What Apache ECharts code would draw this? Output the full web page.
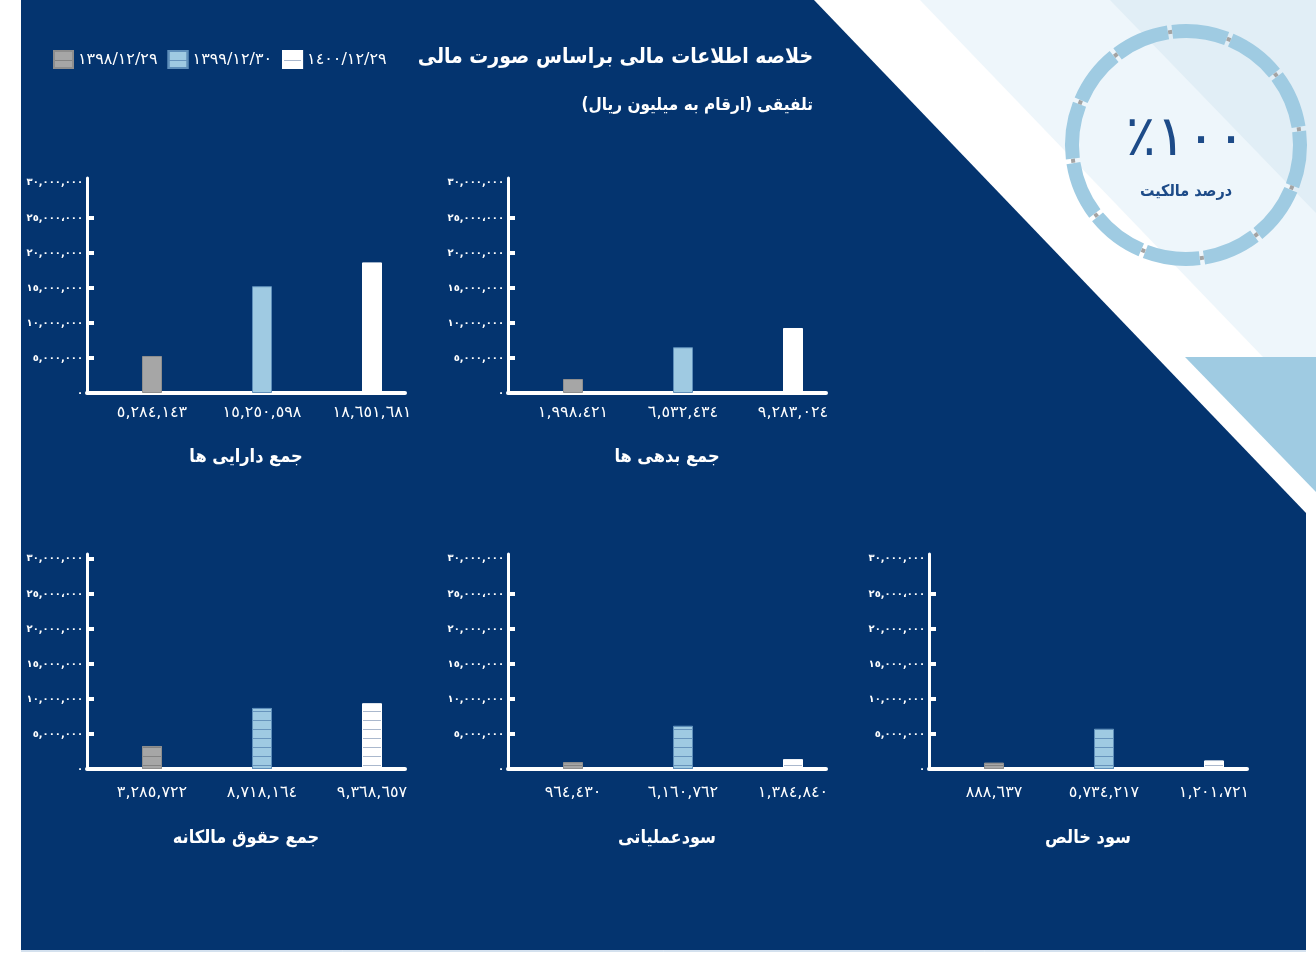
<!DOCTYPE html>
<html><head><meta charset="utf-8">
<script src="https://cdn.jsdelivr.net/npm/echarts@6/dist/echarts.min.js"></script>
<style>html,body{margin:0;padding:0;background:#fff}#c{width:1316px;height:960px}</style>
</head><body><div id="c"></div><script>
// ---------- data ----------
const years = ['١٣٩٨/١٢/٢٩', '١٣٩٩/١٢/٣٠', '١٤٠٠/١٢/٢٩'];
const chartTitles = ['جمع دارایی ها', 'جمع بدهی ها', 'جمع حقوق مالکانه', 'سودعملیاتی', 'سود خالص'];
const totalAssets = [5284143, 15250598, 18651681];
const totalLiabilities = [1998421, 6532434, 9283024];
const totalEquity = [3285722, 8718164, 9368657];
const operatingProfit = [964430, 6160762, 1384840];
const netProfit = [888637, 5734217, 1201721];
const assetsLabels = ['٥,٢٨٤,١٤٣', '١٥,٢٥٠,٥٩٨', '١٨,٦٥١,٦٨١'];
const liabilitiesLabels = ['١,٩٩٨،٤٢١', '٦,٥٣٢,٤٣٤', '٩,٢٨٣,٠٢٤'];
const equityLabels = ['٣,٢٨٥,٧٢٢', '٨,٧١٨,١٦٤', '٩,٣٦٨,٦٥٧'];
const operatingLabels = ['٩٦٤,٤٣٠', '٦,١٦٠,٧٦٢', '١,٣٨٤,٨٤٠'];
const netLabels = ['٨٨٨,٦٣٧', '٥,٧٣٤,٢١٧', '١,٢٠١،٧٢١'];
const yTickValues = [0, 5000000, 10000000, 15000000, 20000000, 25000000, 30000000];
const yTickLabels = ['٠', '٥,٠٠٠,٠٠٠', '١٠,٠٠٠,٠٠٠', '١٥,٠٠٠,٠٠٠', '٢٠,٠٠٠,٠٠٠', '٢٥,٠٠٠،٠٠٠', '٣٠,٠٠٠,٠٠٠'];
const titleLine1 = 'خلاصه اطلاعات مالی براساس صورت مالی';
const titleLine2 = 'تلفیقی (ارقام به میلیون ریال)';
const ownershipValue = '١٠٠٪';
const ownershipLabel = 'درصد مالکیت';

// ---------- styling / layout ----------
const FONT = '"DejaVu Sans Condensed", "DejaVu Sans", sans-serif';
const FONT_NUM = '"DejaVu Sans", sans-serif';
const rtl = s => '\u202B' + s + '\u202C';
const BG = '#04346f';
const seriesColors = ['#a6a6a6', '#9fcae2', '#ffffff'];
const seriesBorders = ['#8e8e8e', '#5f8fba', '#ffffff'];
const decalColors = ['rgba(128,128,128,0.9)', 'rgba(96,142,184,0.9)', 'rgba(165,180,202,0.95)'];
const Y_MAX = 30700000;

const charts = [
  { values: totalAssets, labels: assetsLabels, name: chartTitles[0] },
  { values: totalLiabilities, labels: liabilitiesLabels, name: chartTitles[1] },
  { values: totalEquity, labels: equityLabels, name: chartTitles[2] },
  { values: operatingProfit, labels: operatingLabels, name: chartTitles[3] },
  { values: netProfit, labels: netLabels, name: chartTitles[4] }
];
const layout = [
  { ax: 87, top: 178, labelMargin: 12, captionY: 457, striped: false, tickTop: false },
  { ax: 508, top: 178, labelMargin: 12, captionY: 457, striped: false, tickTop: false },
  { ax: 87, top: 554, labelMargin: 16, captionY: 838, striped: true, tickTop: true },
  { ax: 508, top: 554, labelMargin: 16, captionY: 838, striped: true, tickTop: false },
  { ax: 929, top: 554, labelMargin: 16, captionY: 838, striped: true, tickTop: false }
];
const GW = 318, GH = 215;

function decal(i) {
  return { symbol: 'rect', symbolSize: 1, dashArrayX: [1, 0], dashArrayY: [1, 8], rotation: 0, color: decalColors[i] };
}

const grid = [], xAxis = [], yAxis = [], series = [], graphic = [];

charts.forEach((c, k) => {
  const L = layout[k];
  const ga = grid.length;
  grid.push({ left: L.ax, top: L.top, width: GW, height: GH });
  grid.push({ left: L.ax + 10, top: L.top, width: GW + 12, height: GH });
  // visible axes grid
  xAxis.push({ gridIndex: ga, type: 'category', data: c.labels.map(() => ''),
    axisLine: { show: true, lineStyle: { color: '#fff', width: 4 } },
    axisTick: { show: false }, axisLabel: { show: false } });
  const tickVals = yTickValues.filter(v => v > 0 && (v < 30000000 || L.tickTop));
  yAxis.push({ gridIndex: ga, type: 'value', min: 0, max: Y_MAX,
    splitLine: { show: false },
    axisLine: { show: true, lineStyle: { color: '#fff', width: 3 } },
    axisTick: { show: true, inside: true, length: 7, lineStyle: { color: '#fff', width: 4 }, customValues: tickVals },
    axisLabel: { customValues: yTickValues, color: '#fff', fontSize: 10, fontWeight: 'bold', fontFamily: FONT_NUM, margin: 4,
      formatter: v => { const i = yTickValues.indexOf(v); return i >= 0 ? yTickLabels[i] : ''; } } });
  // bars grid
  xAxis.push({ gridIndex: ga + 1, type: 'category', data: c.labels,
    axisLine: { show: false }, axisTick: { show: false },
    axisLabel: { interval: 0, color: '#fff', fontSize: 16, fontFamily: FONT_NUM, margin: L.labelMargin } });
  yAxis.push({ gridIndex: ga + 1, type: 'value', min: 0, max: Y_MAX, show: false });

  graphic.push({ type: 'text', x: L.ax + GW / 2, y: L.captionY, z: 10,
    style: { text: rtl(c.name), font: 'bold 18px ' + FONT, fill: '#fff',
      textAlign: 'center', textVerticalAlign: 'middle', align: 'center', verticalAlign: 'middle' } });
});

// series: striped charts first so legend inherits the stripes
[2, 3, 4, 0, 1].forEach(k => {
  const c = charts[k], L = layout[k];
  years.forEach((y, i) => {
    const itemStyle = { color: seriesColors[i], borderColor: seriesBorders[i], borderWidth: 1 };
    if (L.striped) itemStyle.decal = decal(i);
    series.push({ type: 'bar', name: y, xAxisIndex: 2 * k + 1, yAxisIndex: 2 * k + 1,
      barWidth: 20, barGap: '-100%', itemStyle,
      data: c.values.map((v, j) => j === i ? v : '-') });
  });
});

// ---------- decorative background ----------
const deco = [
  { type: 'polygon', z: -100, shape: { points: [[920, 0], [1316, 0], [1316, 357], [1263, 357]] }, style: { fill: '#eef6fb' } },
  { type: 'polygon', z: -99, shape: { points: [[1110, 0], [1316, 0], [1316, 213]] }, style: { fill: '#e1eef6' } },
  { type: 'polygon', z: -98, shape: { points: [[1185, 357], [1316, 357], [1316, 492]] }, style: { fill: '#9fcbe2' } },
  { type: 'polygon', z: -97, shape: { points: [[21, 0], [814, 0], [1306, 513], [1306, 950], [21, 950]] }, style: { fill: BG } },
  { type: 'line', z: -96, shape: { x1: 21, y1: 951, x2: 1306, y2: 951 }, style: { stroke: '#a9c3de', lineWidth: 1 } }
];
// ring
const CX = 1186, CY = 145, R0 = 107, R1 = 121;
for (let k = 0; k < 12; k++) {
  const a0 = (-8 + 30 * k) , a1 = a0 + 30;
  const s = (a0 + 1.1 - 90) * Math.PI / 180, e = (a1 - 1.1 - 90) * Math.PI / 180;
  deco.push({ type: 'sector', z: -90, shape: { cx: CX, cy: CY, r0: R0, r: R1, startAngle: s, endAngle: e, clockwise: true }, style: { fill: '#9fcbe2' } });
  const g = (a0 - 90) * Math.PI / 180, rm = (R0 + R1) / 2;
  deco.push({ type: 'rect', z: -89, x: CX + rm * Math.cos(g), y: CY + rm * Math.sin(g), rotation: -g,
    shape: { x: -2, y: -2, width: 4, height: 4 }, style: { fill: '#a3a3a3' } });
}
deco.push({ type: 'text', x: CX, y: 140, z: 10, style: { text: rtl(ownershipValue), font: '56px ' + FONT_NUM, fill: '#1d4b88',
  textAlign: 'center', textVerticalAlign: 'middle', align: 'center', verticalAlign: 'middle' } });
deco.push({ type: 'text', x: CX, y: 192, z: 10, style: { text: rtl(ownershipLabel), font: 'bold 16px ' + FONT, fill: '#1d4b88',
  textAlign: 'center', textVerticalAlign: 'middle', align: 'center', verticalAlign: 'middle' } });
deco.push({ type: 'text', x: 813, y: 58, z: 10, style: { text: rtl(titleLine1), font: 'bold 21px ' + FONT, fill: '#fff',
  textAlign: 'right', textVerticalAlign: 'middle', align: 'right', verticalAlign: 'middle' } });
deco.push({ type: 'text', x: 813, y: 106, z: 10, style: { text: rtl(titleLine2), font: 'bold 17px ' + FONT, fill: '#fff',
  textAlign: 'right', textVerticalAlign: 'middle', align: 'right', verticalAlign: 'middle' } });

const chart = echarts.init(document.getElementById('c'), null, { renderer: 'canvas' });
chart.setOption({
  backgroundColor: '#ffffff',
  animation: false,
  textStyle: { fontFamily: FONT },
  legend: { left: 48, top: 45, itemWidth: 19, itemHeight: 17, itemGap: 10, icon: 'rect',
    textStyle: { color: '#fff', fontSize: 16, fontFamily: FONT_NUM },
    data: years.map((y, i) => ({ name: y, itemStyle: { decal: decal(i) } })) },
  grid, xAxis, yAxis, series,
  graphic: { elements: deco.concat(graphic) }
});
</script></body></html>
